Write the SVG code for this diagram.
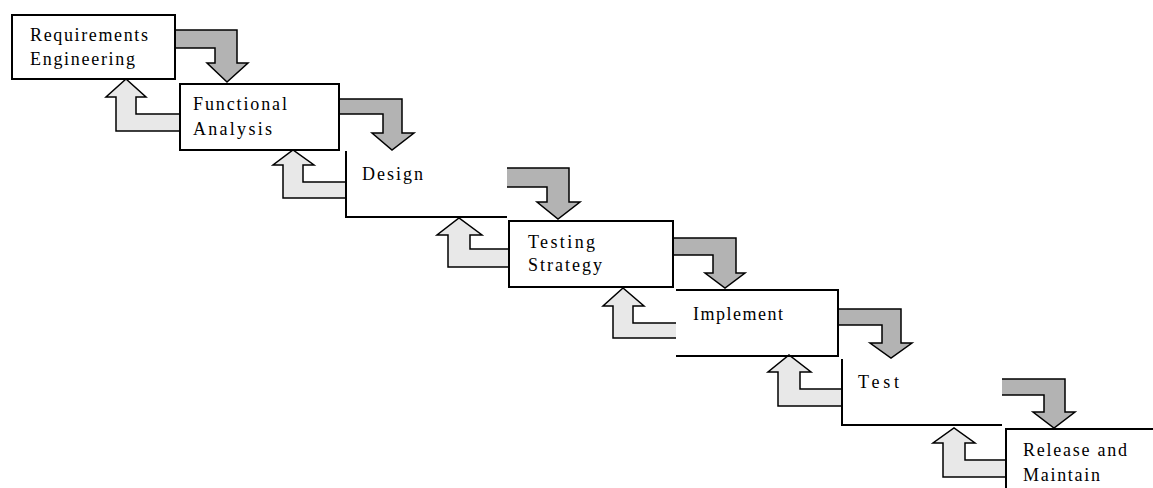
<svg xmlns="http://www.w3.org/2000/svg" width="1153" height="488" viewBox="0 0 1153 488">
  <style>
    .box { fill: #ffffff; stroke: #000000; stroke-width: 2; }
    .edge { fill: none; stroke: #000000; stroke-width: 2; }
    .lbl { font-family: "Liberation Serif", "Times New Roman", serif; font-size: 18px; fill: #000000; }
    .down { fill: #b3b3b3; stroke: #000000; stroke-width: 1.5; stroke-linejoin: miter; }
    .up { fill: #e8e8e8; stroke: #000000; stroke-width: 1.5; stroke-linejoin: miter; }
  </style>
  <rect width="1153" height="488" fill="#ffffff"/>

  <!-- feedback / hand-off arrows between phases -->
  <g id="connectors">
    <!-- forward (down) arrows -->
    <path class="down" d="M175,30 H237 V63 H248 L227,82 L207,63 H215 V48 H175"/>
    <path class="down" d="M339,99 H402 V133 H414 L392,150 L372,133 H383 V114 H339"/>
    <path class="down" d="M507,168 H569 V202 H580 L558,219 L537,202 H547 V187 H507"/>
    <path class="down" d="M673,238 H736 V273 H745 L725,288 L705,273 H713 V255 H673"/>
    <path class="down" d="M838,309 H901 V343 H912 L891,358 L870,343 H882 V325 H838"/>
    <path class="down" d="M1002,379 H1065 V412 H1075 L1054,428 L1033,412 H1044 V395 H1002"/>
    <!-- backward (up) arrows -->
    <path class="up" d="M180,131 H116 V97 H106 L126,79 L146,97 H136 V114 H180"/>
    <path class="up" d="M346,198 H283 V165 H273 L293,150 L314,165 H303 V182 H346"/>
    <path class="up" d="M509,267 H448 V235 H437 L459,218 L482,235 H470 V249 H509"/>
    <path class="up" d="M676,338 H613 V306 H603 L623,288 L644,306 H633 V323 H676"/>
    <path class="up" d="M842,406 H778 V372 H768 L789,355 L811,372 H800 V389 H842"/>
    <path class="up" d="M1006,477 H943 V443 H933 L954,428 L975,443 H965 V460 H1006"/>
  </g>

  <g id="requirements">
    <rect class="box" x="12" y="15" width="163" height="64"/>
    <text class="lbl" x="30" y="41" textLength="118" lengthAdjust="spacing">Requirements</text>
    <text class="lbl" x="30" y="65" textLength="105" lengthAdjust="spacing">Engineering</text>
  </g>

  <g id="functional-analysis">
    <rect class="box" x="180" y="84" width="159" height="66"/>
    <text class="lbl" x="193" y="110" textLength="94" lengthAdjust="spacing">Functional</text>
    <text class="lbl" x="193" y="135" textLength="79" lengthAdjust="spacing">Analysis</text>
  </g>

  <g id="design">
    <path class="edge" d="M346,151 V217 H507"/>
    <text class="lbl" x="362" y="180" textLength="61" lengthAdjust="spacing">Design</text>
  </g>

  <g id="testing-strategy">
    <rect class="box" x="509" y="221" width="164" height="66"/>
    <text class="lbl" x="528" y="248" textLength="67" lengthAdjust="spacing">Testing</text>
    <text class="lbl" x="528" y="271" textLength="74" lengthAdjust="spacing">Strategy</text>
  </g>

  <g id="implement">
    <path class="edge" d="M676,290 H838 V356 H676"/>
    <text class="lbl" x="693" y="320" textLength="90" lengthAdjust="spacing">Implement</text>
  </g>

  <g id="test">
    <path class="edge" d="M842,359 V425 H1002"/>
    <text class="lbl" x="858" y="388" textLength="41" lengthAdjust="spacing">Test</text>
  </g>

  <g id="release-maintain">
    <path class="edge" d="M1006,490 V429 H1155"/>
    <text class="lbl" x="1023" y="456" textLength="104" lengthAdjust="spacing">Release and</text>
    <text class="lbl" x="1023" y="481" textLength="77" lengthAdjust="spacing">Maintain</text>
  </g>
</svg>
